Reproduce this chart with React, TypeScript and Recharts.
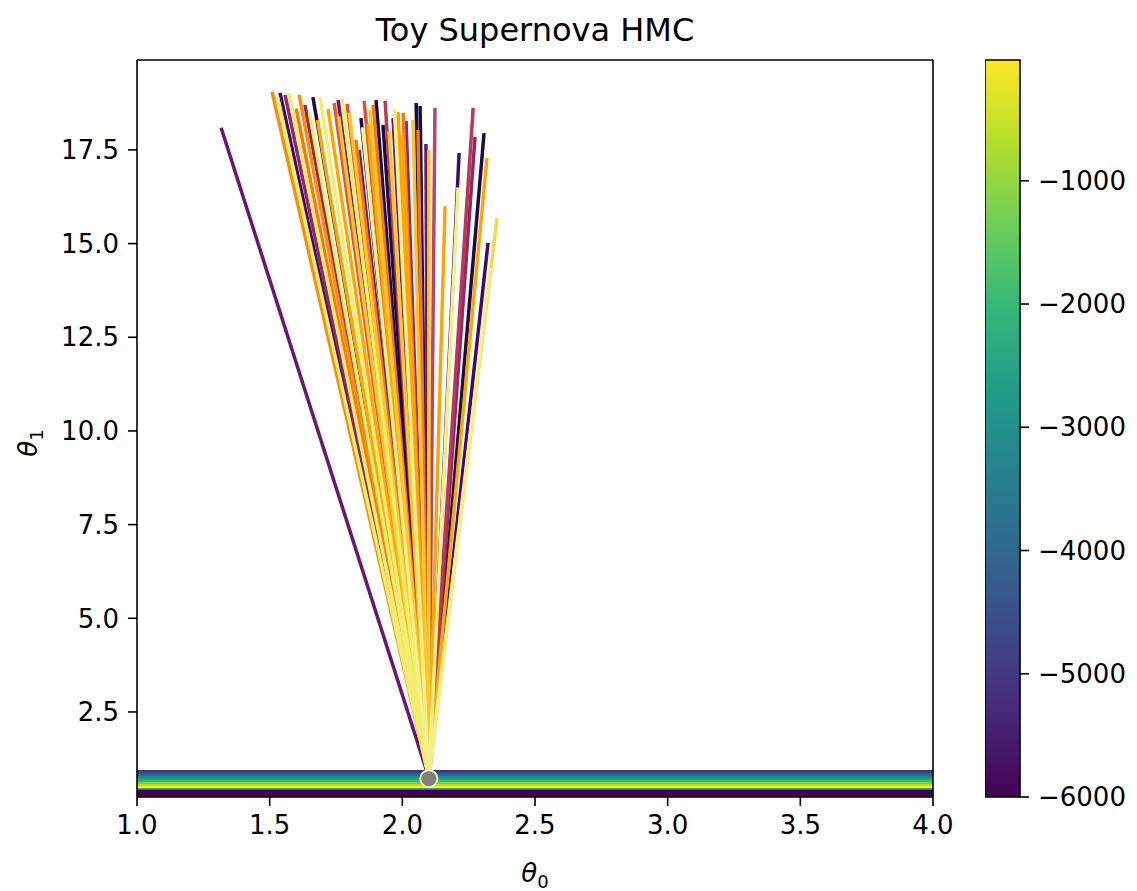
import {
  ComposedChart,
  Line,
  Scatter,
  XAxis,
  YAxis,
  ReferenceArea,
  ReferenceLine,
} from 'recharts'

// theta0 / theta1 axis ticks
const xTicks = [1.0, 1.5, 2.0, 2.5, 3.0, 3.5, 4.0]
const yTicks = [2.5, 5.0, 7.5, 10.0, 12.5, 15.0, 17.5]
const cbarTicks = [-6000, -5000, -4000, -3000, -2000, -1000]

// HMC start point
const startX = 2.1
const startY = 0.74

// trajectory end points (theta0, theta1) and their colours, darkest drawn first
const trajEndX = [
  1.317, 1.539, 1.663, 1.844, 1.901, 1.927, 2.052, 2.067, 2.308, 2.214,
  2.323, 1.558, 1.633, 2.014, 2.274, 1.758, 1.837, 1.965, 2.089, 1.935,
  2.267, 2.123, 1.743, 1.792, 1.856, 1.509, 1.611, 1.825, 2.003, 2.059,
  1.600, 1.890, 1.984, 2.319, 2.161, 1.720, 1.870, 2.000, 1.680, 1.760,
  1.878, 1.800, 1.950, 2.040, 2.100, 2.357, 1.573, 1.690, 1.773, 1.530,
  1.650, 1.970, 1.850, 2.210, 2.331,
]
const trajEndY = [
  18.09, 19.02, 18.91, 18.35, 18.83, 18.17, 18.75, 18.67, 17.95, 17.42,
  15.02, 18.97, 18.7, 18.27, 17.85, 18.83, 17.5, 18.35, 17.66, 18.81,
  18.62, 18.62, 18.75, 18.73, 18.81, 19.05, 18.97, 17.77, 18.49, 18.03,
  18.6, 18.7, 18.51, 17.29, 16.0, 18.6, 18.2, 17.9, 18.3, 18.4,
  18.57, 18.5, 18.0, 18.3, 17.5, 15.68, 19.02, 18.89, 18.86, 18.9,
  18.5, 18.6, 18.1, 16.5, 14.35,
]
const trajColors = [
  '#6a176e', '#420a68', '#1b0c41', '#1b0c41', '#1b0c41', '#1b0c41', '#1b0c41', '#1b0c41', '#1b0c41', '#420a68',
  '#420a68', '#932667', '#932667', '#932667', '#932667', '#6a176e', '#6a176e', '#6a176e', '#6a176e', '#bc3754',
  '#bc3754', '#b8436f', '#e35933', '#dd513a', '#dd513a', '#f98e09', '#f98e09', '#f37819', '#f37819', '#f37819',
  '#f37819', '#f37819', '#fca50a', '#fca50a', '#fca50a', '#fca50a', '#fca50a', '#fca50a', '#fca50a', '#fac62d',
  '#fac62d', '#fac62d', '#fac62d', '#fac62d', '#fac62d', '#f6d746', '#f1ed71', '#f1ed71', '#f1ed71', '#f1ed71',
  '#f1ed71', '#f3f08a', '#f3f08a', '#f3f08a', '#f3f08a',
]

// filled contour band of the log posterior (theta1 edges, bottom to top)
const bandEdges = [0.23, 0.418, 0.445, 0.472, 0.525, 0.578, 0.632, 0.685, 0.739, 0.792, 0.845, 0.899, 0.952]
const bandColors = [
  '#440154', '#31688e', '#35b779', '#fde725', '#b5de2b', '#6ece58',
  '#35b779', '#1f9e89', '#26828e', '#31688e', '#3e4989', '#46327e',
]

const viridisStops = ['#440154', '#482878', '#3e4989', '#31688e', '#26828e', '#1f9e89', '#35b779', '#6ece58', '#b5de2b', '#fde725']
const cbarData = [{ x: 0 }, { x: 1 }]

const font = '"DejaVu Sans", sans-serif'
const tickStyle = { fontSize: 26, fill: '#000', fontFamily: font }

const Dot = (props: any) => (
  <circle cx={props.cx} cy={props.cy} r={8.5} fill="#808080" stroke="#f3efb0" strokeWidth={2} />
)

export default function App() {
  const bands = bandColors.map((c, i) => ({ y1: bandEdges[i], y2: bandEdges[i + 1], color: c }))
  const trajs = trajEndX.map((x, i) => ({
    data: [
      { x: startX, y: startY },
      { x, y: trajEndY[i] },
    ],
    color: trajColors[i],
  }))

  return (
    <div style={{ position: 'absolute', left: 0, top: 0, width: 1137, height: 891, background: '#fff', fontFamily: font }}>
      <div style={{ position: 'absolute', left: 137, width: 796, top: 11, textAlign: 'center', fontSize: 32, color: '#000' }}>
        Toy Supernova HMC
      </div>

      <div style={{ position: 'absolute', left: 0, top: 0 }}>
        <ComposedChart width={975} height={891} margin={{ top: 60, right: 42, left: 0, bottom: 0 }}>
          <XAxis
            type="number"
            dataKey="x"
            domain={[1, 4]}
            ticks={xTicks}
            allowDataOverflow
            height={94}
            tickSize={9}
            tickMargin={10}
            tick={tickStyle}
            tickFormatter={(v: number) => v.toFixed(1)}
            stroke="#000"
            axisLine={{ stroke: '#000', strokeWidth: 1.6 }}
            tickLine={{ stroke: '#000', strokeWidth: 1.6 }}
          />
          <YAxis
            type="number"
            dataKey="y"
            domain={[0.23, 19.9]}
            ticks={yTicks}
            allowDataOverflow
            width={137}
            tickSize={9}
            tickMargin={9}
            tick={tickStyle}
            tickFormatter={(v: number) => v.toFixed(1)}
            axisLine={{ stroke: '#000', strokeWidth: 1.6 }}
            tickLine={{ stroke: '#000', strokeWidth: 1.6 }}
          />
          {bands.map((b, i) => (
            <ReferenceArea
              key={'b' + i}
              x1={1}
              x2={4}
              y1={b.y1}
              y2={b.y2}
              fill={b.color}
              fillOpacity={1}
              stroke="none"
            />
          ))}
          {trajs.map((t, i) => (
            <Line
              key={'t' + i}
              data={t.data}
              dataKey="y"
              type="linear"
              stroke={t.color}
              strokeWidth={3.5}
              dot={false}
              activeDot={false}
              isAnimationActive={false}
            />
          ))}
          <Scatter data={[{ x: startX, y: 0.72 }]} dataKey="y" shape={Dot} isAnimationActive={false} />
          <ReferenceLine y={19.9} stroke="#000" strokeWidth={1.6} />
          <ReferenceLine x={4} stroke="#000" strokeWidth={1.6} />
        </ComposedChart>
      </div>

      <div style={{ position: 'absolute', left: 985, top: 0 }}>
        <ComposedChart width={152} height={891} data={cbarData} margin={{ top: 60, right: 0, left: 0, bottom: 94 }}>
          <defs>
            <linearGradient id="viridisGrad" x1="0" y1="1" x2="0" y2="0">
              {viridisStops.map((c, i) => (
                <stop key={c} offset={i / (viridisStops.length - 1)} stopColor={c} />
              ))}
            </linearGradient>
          </defs>
          <XAxis type="number" dataKey="x" domain={[0, 1]} allowDataOverflow hide />
          <YAxis
            type="number"
            orientation="right"
            domain={[-6000, -20]}
            ticks={cbarTicks}
            allowDataOverflow
            width={117}
            tickSize={9}
            tickMargin={9}
            tick={tickStyle}
            tickFormatter={(v: number) => String(v).replace('-', '\u2212')}
            axisLine={false}
            tickLine={{ stroke: '#000', strokeWidth: 1.6 }}
          />
          <ReferenceArea
            x1={0}
            x2={1}
            y1={-6000}
            y2={-20}
            fill="url(#viridisGrad)"
            fillOpacity={1}
            stroke="#000"
            strokeWidth={1.6}
            ifOverflow="visible"
          />
        </ComposedChart>
      </div>

      <div style={{ position: 'absolute', left: 137, width: 796, top: 858, textAlign: 'center', fontSize: 26, color: '#000' }}>
        <span style={{ fontStyle: 'italic' }}>θ</span>
        <sub style={{ fontSize: 18 }}>0</sub>
      </div>
      <div
        style={{
          position: 'absolute',
          left: 28 - 200,
          width: 400,
          top: 428,
          textAlign: 'center',
          fontSize: 26,
          color: '#000',
          transform: 'rotate(-90deg)',
          transformOrigin: '200px 15px',
        }}
      >
        <span style={{ fontStyle: 'italic' }}>θ</span>
        <sub style={{ fontSize: 18 }}>1</sub>
      </div>
    </div>
  )
}
